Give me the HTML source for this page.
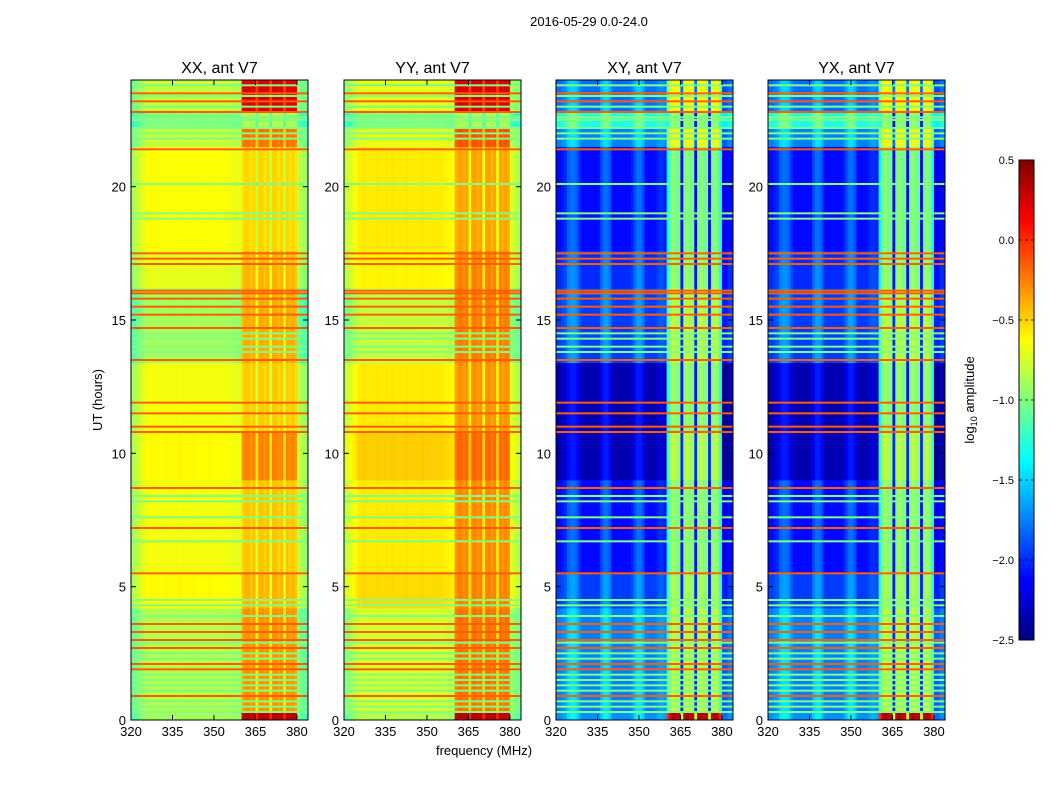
<!DOCTYPE html>
<html><head><meta charset="utf-8">
<style>
body{margin:0;background:#fff;font-family:"Liberation Sans",sans-serif}
svg text{font-family:"Liberation Sans","DejaVu Sans",sans-serif}
</style></head>
<body>
<svg id="fig" width="1050" height="800" viewBox="0 0 1050 800" xmlns="http://www.w3.org/2000/svg">
<rect width="1050" height="800" fill="#fff"/>
<text x="589" y="26" font-size="13" text-anchor="middle">2016-05-29 0.0-24.0</text>
<text x="484" y="755" font-size="13" text-anchor="middle">frequency (MHz)</text>
<text transform="translate(102,400) rotate(-90)" font-size="13" text-anchor="middle">UT (hours)</text>
<text transform="translate(974,400) rotate(-90)" font-size="13" text-anchor="middle">log<tspan font-size="9" dy="3">10</tspan><tspan dy="-3"> amplitude</tspan></text>
<g id="plots"></g>
</svg>
<script>
// ---- data ----
const panelTitles = ["XX, ant V7","YY, ant V7","XY, ant V7","YX, ant V7"];
const freqStart = [320,321,322,323,324,325,326,327,328,329,330,331,332,333,334,335,336,337,338,339,340,341,342,343,344,345,346,347,348,349,350,351,352,353,354,355,356,357,358,359,360,361,362,363,364,365,366,367,368,369,370,371,372,373,374,375,376,377,378,379,380,381,382,383];
const autoProfile = [-0.25,-0.2,-0.15,-0.1,-0.05,0,0,0.02,0,0,0,0,0.02,0,0,0,0,0.02,0,0,0,0,0.02,0,0,0,0,0,0.02,0,0,0,0,0,0,0,-0.02,-0.03,-0.04,-0.05,
 0,0.05,0.05,0,0.05,-0.25,0.05,0.05,0,0.05,-0.25,0.05,0.05,0,0.05,-0.25,0.05,0,0.05,0,
 -0.15,-0.2,-0.25,-0.3];
const crossProfile = [0,0,0.05,0.1,0.25,0.3,0.3,0.25,0.1,0,0,0,0,0,0,0,0.2,0.3,0.3,0.2,0,0,0,0,0,0,0,0.05,0.2,0.3,0.3,0.2,0,0,0,0,0.05,0.1,0.1,0.05,
 -0.3,0,0.1,0,0,-1.1,0,0.1,0,0,-1.1,0,0.1,0,0,-1.1,0,0.1,0,-0.3,
 -0.1,-0.1,0,0];
const bandStart = [0,0.35,4.2,5.5,9.0,10.8,13.4,16.2,17.6,21.5,22.2,22.8];
const bandEnd   = [0.35,4.2,5.5,9.0,10.8,13.4,16.2,17.6,21.5,22.2,22.8,24];
const xxLeft  = [-0.9,-0.85,-0.62,-0.66,-0.62,-0.66,-0.9,-0.7,-0.64,-0.8,-1.0,-0.8];
const xxRight = [0.3,-0.35,-0.45,-0.5,-0.3,-0.52,-0.42,-0.45,-0.55,-0.25,-0.9,0.2];
const yyLeft  = [-0.85,-0.75,-0.52,-0.57,-0.48,-0.57,-0.8,-0.6,-0.57,-0.7,-1.0,-0.7];
const yyRight = [0.3,-0.25,-0.3,-0.32,-0.22,-0.35,-0.28,-0.3,-0.4,-0.15,-0.9,0.2];
const crossLeft  = [-1.7,-1.75,-1.95,-2.1,-2.35,-2.35,-1.95,-2.0,-2.1,-1.75,-1.3,-1.8];
const crossRight = [0.3,-0.9,-0.95,-1.0,-0.9,-1.0,-0.9,-1.0,-1.05,-0.7,-1.0,-0.7];
const redLines = [0.9,1.9,2.1,2.7,3.0,3.3,3.6,5.5,7.2,8.7,10.8,11.0,11.5,11.9,13.5,14.7,15.2,15.5,15.8,16.0,16.1,17.1,17.3,17.5,21.4,22.8,23.2,23.5];
const greenLines = [0.3,0.5,0.7,1.1,1.3,1.5,1.7,2.3,2.5,2.9,3.9,4.3,4.5,6.7,7.6,8.2,8.4,13.8,14.0,14.3,14.5,18.8,19.0,20.1,21.8,22.0,22.2,22.5,22.6,23.0,23.4,23.8];
const redValue = -0.15, greenValue = -1.0;
const xTicks = [320,335,350,365,380];
const yTicks = [0,5,10,15,20];
const cbTicks = [0.5,0.0,-0.5,-1.0,-1.5,-2.0,-2.5];
const cbTickLabels = ["0.5","0.0","\u22120.5","\u22121.0","\u22121.5","\u22122.0","\u22122.5"];
// ---- layout ----
const NS="http://www.w3.org/2000/svg";
const panelX=[131,344,556,768], PW=177, PT=80, PB=720;
const fMin=320, fMax=384, vMin=-2.5, vMax=0.5;
const xs=(f,p)=>panelX[p]+(f-fMin)/(fMax-fMin)*PW;
const ys=h=>PB-h/24*(PB-PT);
function cl(x){return Math.max(0,Math.min(1,x));}
function jet(v){const t=cl((v-vMin)/(vMax-vMin));
 const r=cl(1.5-Math.abs(4*t-3)),g=cl(1.5-Math.abs(4*t-2)),b=cl(1.5-Math.abs(4*t-1));
 return `rgb(${Math.round(r*255)},${Math.round(g*255)},${Math.round(b*255)})`;}
function mk(tag,attrs,parent){const e=document.createElementNS(NS,tag);for(const k in attrs)e.setAttribute(k,attrs[k]);parent.appendChild(e);return e;}
const root=document.getElementById('plots');
const isRight=f=>f>=360&&f<380;
for(let p=0;p<4;p++){
 const g=mk('g',{},root);
 
 
 const prof=p<2?autoProfile:crossProfile;
 const L=p==0?xxLeft:p==1?yyLeft:crossLeft, R=p==0?xxRight:p==1?yyRight:crossRight;
 for(let b=0;b<bandStart.length;b++){
  for(let j=0;j<freqStart.length;j++){
   const f=freqStart[j];
   const v=(isRight(f)?R[b]:L[b])+prof[j];
   const x0=xs(f,p),x1=xs(f+1,p);
   const r=mk('rect',{x:x0,y:ys(bandEnd[b]),width:x1-x0+0.4,height:ys(bandStart[b])-ys(bandEnd[b])+0.4,fill:jet(v)},g);
   
   
  }
 }
 greenLines.forEach(h=>{const r=mk('rect',{x:panelX[p],y:ys(h)-1,width:PW,height:2,fill:jet(greenValue)},g);
  
  });
 redLines.forEach(h=>{const r=mk('rect',{x:panelX[p],y:ys(h)-1,width:PW,height:2,fill:jet(redValue)},g);
  
  });
 const fr=mk('rect',{x:panelX[p],y:PT,width:PW,height:PB-PT,fill:'none',stroke:'#000','stroke-width':1},g);
 
 
 const t=mk('text',{x:panelX[p]+PW/2,y:73,'font-size':16,'text-anchor':'middle'},g);t.textContent=panelTitles[p];
 
 
 xTicks.forEach(f=>{const x=xs(f,p);
  mk('line',{x1:x,x2:x,y1:PB,y2:PB-5,stroke:'#000'},g);mk('line',{x1:x,x2:x,y1:PT,y2:PT+5,stroke:'#000'},g);
  const tx=mk('text',{x:x,y:PB+16,'font-size':13,'text-anchor':'middle'},g);tx.textContent=f;
  
  });
 yTicks.forEach(h=>{const y=ys(h);
  mk('line',{x1:panelX[p],x2:panelX[p]+5,y1:y,y2:y,stroke:'#000'},g);mk('line',{x1:panelX[p]+PW,x2:panelX[p]+PW-5,y1:y,y2:y,stroke:'#000'},g);
  const ty=mk('text',{x:panelX[p]-5,y:y+5,'font-size':13,'text-anchor':'end'},g);ty.textContent=h;
  
  });
}
// colorbar
const cb=mk('g',{},root);


const cbX=1019,cbW=15,cbT=160,cbB=640;
const cby=v=>cbB-(v-vMin)/(vMax-vMin)*(cbB-cbT);
for(let i=0;i<120;i++){const v0=vMin+i*(vMax-vMin)/120,v1=vMin+(i+1)*(vMax-vMin)/120;
 mk('rect',{x:cbX,y:cby(v1),width:cbW,height:cby(v0)-cby(v1)+0.5,fill:jet((v0+v1)/2)},cb);}
mk('rect',{x:cbX,y:cbT,width:cbW,height:cbB-cbT,fill:'none',stroke:'#000'},cb);
cbTicks.forEach((v,i)=>{const y=cby(v);
 mk('line',{x1:cbX,x2:cbX+cbW,y1:y,y2:y,stroke:'#000','stroke-dasharray':'3,3','stroke-width':0.8},cb);
 const t=mk('text',{x:1014,y:y+4,'font-size':11,'text-anchor':'end'},cb);t.textContent=cbTickLabels[i];
 
 });
</script>
</body></html>
